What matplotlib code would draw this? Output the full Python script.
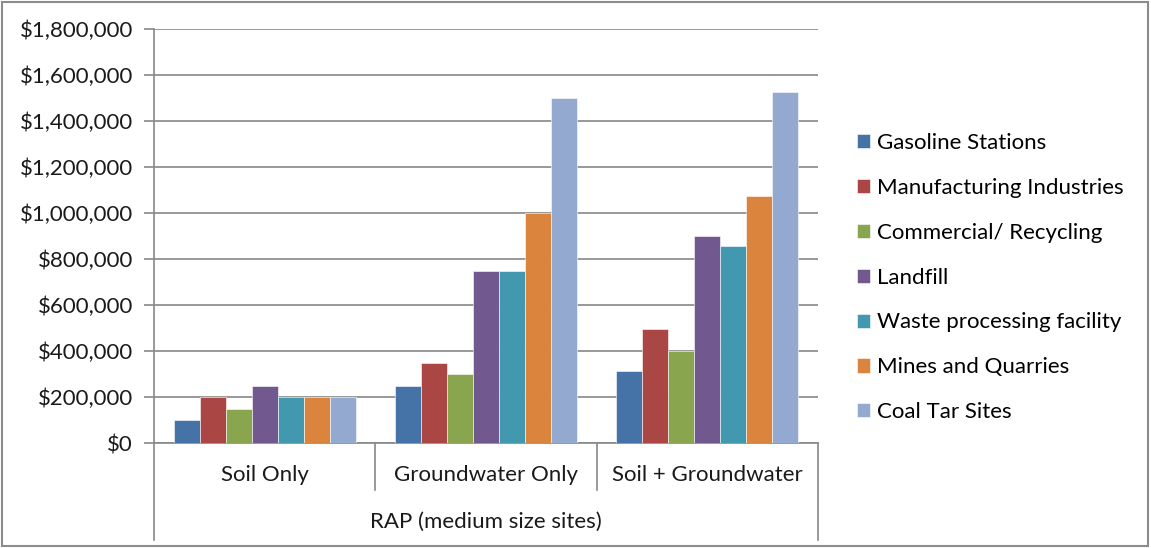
import matplotlib
matplotlib.use("Agg")
import matplotlib.pyplot as plt
import numpy as np
from matplotlib.ticker import FuncFormatter, MultipleLocator
from matplotlib.patches import Rectangle, Patch
import matplotlib.transforms as mtransforms

plt.rcParams['font.family'] = ['Lato', 'DejaVu Sans']

categories = ["Soil Only", "Groundwater Only", "Soil + Groundwater"]
group_label = "RAP (medium size sites)"

series_names = [
    "Gasoline Stations",
    "Manufacturing Industries",
    "Commercial/ Recycling",
    "Landfill",
    "Waste processing facility",
    "Mines and Quarries",
    "Coal Tar Sites",
]

gasoline = [100000, 250000, 315000]
manufacturing = [200000, 350000, 495000]
commercial = [150000, 300000, 400000]
landfill = [250000, 750000, 900000]
waste = [200000, 750000, 855000]
mines = [200000, 1000000, 1075000]
coal_tar = [200000, 1500000, 1525000]

series_values = [gasoline, manufacturing, commercial, landfill, waste, mines, coal_tar]
colors = ["#4572A7", "#AA4643", "#89A54E", "#71588F", "#4198AF", "#DB843D", "#93A9CF"]

FS = 16

W, H = 1151, 548
fig = plt.figure(figsize=(W / 100, H / 100), dpi=100)
fig.patch.set_facecolor("white")

# Outer chart frame
fig.add_artist(Rectangle((2 / W, 2 / H), (1148 - 2) / W, (546 - 2) / H,
                         transform=fig.transFigure, fill=False,
                         edgecolor="#8c8c8c", linewidth=1.5))

left, right, top, bottom = 154, 818, 29, 443
ax = fig.add_axes([left / W, 1 - bottom / H, (right - left) / W, (bottom - top) / H])

n = len(series_values)
gap = 1.5
bar_w = 1.0 / (n + gap)
x = np.arange(len(categories))
for i, (vals, c, name) in enumerate(zip(series_values, colors, series_names)):
    offs = (i - (n - 1) / 2) * bar_w
    ax.bar(x + offs, vals, width=bar_w, color=c, edgecolor="#ffffff",
           linewidth=0.4, label=name, zorder=3)

ax.set_xlim(-0.5, len(categories) - 0.5)
ax.set_ylim(0, 1800000)
ax.yaxis.set_major_locator(MultipleLocator(200000))
ax.yaxis.set_major_formatter(FuncFormatter(lambda v, p: f"${v:,.0f}"))
ax.grid(axis="y", color="#888888", linewidth=1.2, zorder=0)
ax.set_axisbelow(True)

for s in ["top", "right"]:
    ax.spines[s].set_visible(False)
for s in ["left", "bottom"]:
    ax.spines[s].set_color("#888888")
    ax.spines[s].set_linewidth(1.2)

ax.tick_params(axis="y", direction="out", length=7, width=1.2, color="#888888",
               labelsize=FS, labelcolor="#1a1a1a", pad=8)
ax.tick_params(axis="x", bottom=False, labelbottom=False)

# Category axis dividers and labels below the plot
trans = mtransforms.blended_transform_factory(ax.transData, ax.transAxes)
ax_h = bottom - top
for xb in [0.5, 1.5]:
    ax.plot([xb, xb], [0, -47 / ax_h], transform=trans, color="#888888",
            linewidth=1.2, clip_on=False)
for xb in [-0.5, len(categories) - 0.5]:
    ax.plot([xb, xb], [0, -97 / ax_h], transform=trans, color="#888888",
            linewidth=1.2, clip_on=False)
for xi, cat in zip(x, categories):
    ax.text(xi, -32 / ax_h, cat, transform=trans, ha="center", va="center",
            fontsize=FS, color="#1a1a1a")
ax.text((len(categories) - 1) / 2, -79 / ax_h, group_label, transform=trans,
        ha="center", va="center", fontsize=FS, color="#1a1a1a")

handles = [Patch(facecolor=c, edgecolor="#ffffff", linewidth=0.4) for c in colors]
fig.legend(handles, series_names, loc="upper left",
           bbox_to_anchor=(848 / W, 1 - 124 / H), frameon=False,
           fontsize=FS, handlelength=0.6, handleheight=0.6,
           handletextpad=0.3, labelspacing=1.12, borderaxespad=0)

fig.savefig("out.png", dpi=100, facecolor="white")
